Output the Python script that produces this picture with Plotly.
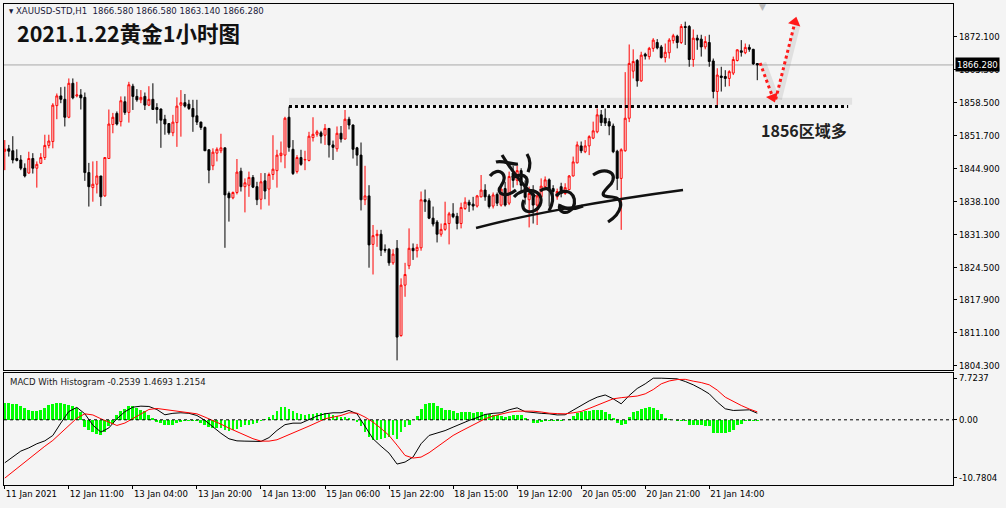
import plotly.graph_objects as go

W, H = 1006, 508
BG = '#f4f4f4'
FONT = 'DejaVu Sans Condensed, Liberation Sans, sans-serif'

# ---------------- data (hourly XAUUSD bars, index 0 = first visible bar) ----------------
open_ = [
    1848.5, 1849.0, 1848.6, 1847.0, 1846.7, 1845.0, 1844.0, 1847.0, 1845.0, 1846.0,
    1847.2, 1849.7, 1850.5, 1857.9, 1859.9, 1859.2, 1855.5, 1862.5, 1859.9, 1860.1,
    1859.6, 1844.1, 1841.0, 1841.7, 1843.4, 1839.3, 1847.0, 1854.0, 1856.3, 1854.6,
    1858.7, 1856.5, 1861.9, 1859.8, 1859.1, 1859.8, 1858.0, 1859.2, 1857.5, 1857.2,
    1855.1, 1854.2, 1852.3, 1854.4, 1858.0, 1858.5, 1858.2, 1857.3, 1855.8, 1854.5,
    1853.4, 1848.8, 1845.5, 1848.1, 1848.6, 1849.2, 1839.8, 1838.9, 1840.0, 1844.4,
    1841.2, 1841.5, 1843.1, 1841.2, 1838.6, 1842.4, 1840.7, 1843.7, 1844.5, 1847.6,
    1847.7, 1855.5, 1848.9, 1844.3, 1847.2, 1846.7, 1846.6, 1851.3, 1852.0, 1852.3,
    1851.8, 1853.2, 1849.8, 1849.0, 1852.2, 1851.0, 1855.1, 1853.9, 1849.2, 1847.7,
    1838.5, 1839.3, 1829.3, 1831.1, 1831.4, 1828.3, 1828.3, 1825.5, 1828.5, 1810.5,
    1820.9, 1824.9, 1828.5, 1828.0, 1828.6, 1838.5, 1838.3, 1834.7, 1833.9, 1831.4,
    1832.4, 1833.6, 1835.6, 1835.1, 1833.6, 1836.7, 1838.0, 1837.6, 1837.2, 1839.1,
    1840.5, 1839.3, 1837.2, 1839.6, 1837.4, 1840.8, 1837.8, 1844.0, 1842.5, 1844.5,
    1841.5, 1838.5, 1839.8, 1837.4, 1839.1, 1841.2, 1842.6, 1840.8, 1839.1, 1841.2,
    1839.8, 1840.6, 1843.4, 1846.1, 1849.6, 1848.4, 1849.6, 1851.2, 1852.5, 1856.0,
    1855.3, 1854.6, 1853.7, 1848.5, 1842.9, 1848.6, 1855.3, 1865.0, 1867.2, 1863.0,
    1868.5, 1868.0, 1869.7, 1870.9, 1870.0, 1867.8, 1868.8, 1871.3, 1872.2, 1870.9,
    1874.2, 1874.2, 1867.4, 1871.8, 1871.6, 1870.0, 1870.9, 1867.1, 1860.8, 1864.0,
    1863.9, 1863.5, 1864.6, 1867.2, 1869.2, 1868.8, 1869.9, 1869.5, 1866.58]

high = [
    1850.8, 1849.8, 1851.6, 1848.9, 1847.7, 1846.0, 1848.4, 1848.1, 1846.4, 1848.1,
    1851.9, 1851.9, 1858.4, 1860.4, 1861.7, 1861.8, 1863.5, 1863.5, 1862.8, 1861.3,
    1860.6, 1846.1, 1846.4, 1846.5, 1843.4, 1847.2, 1857.1, 1856.4, 1856.7, 1859.8,
    1859.8, 1862.8, 1862.4, 1861.3, 1861.1, 1860.6, 1861.9, 1862.5, 1858.4, 1857.3,
    1856.0, 1854.2, 1856.0, 1859.6, 1861.1, 1860.3, 1859.1, 1859.1, 1859.1, 1854.6,
    1853.6, 1848.9, 1849.1, 1849.3, 1852.1, 1849.2, 1840.2, 1840.2, 1846.9, 1845.1,
    1842.9, 1844.3, 1843.6, 1842.2, 1844.0, 1844.0, 1844.1, 1851.8, 1848.8, 1850.5,
    1855.6, 1857.7, 1850.8, 1847.7, 1848.8, 1848.6, 1852.5, 1855.5, 1852.9, 1852.7,
    1854.1, 1853.2, 1850.7, 1853.6, 1853.7, 1857.0, 1855.6, 1854.0, 1849.4, 1850.3,
    1845.5, 1841.5, 1833.3, 1832.3, 1832.3, 1829.3, 1828.5, 1828.3, 1830.2, 1822.3,
    1825.5, 1832.6, 1829.5, 1829.4, 1840.2, 1840.6, 1838.8, 1837.1, 1834.3, 1833.6,
    1838.1, 1836.0, 1837.8, 1835.8, 1837.9, 1839.0, 1838.5, 1839.1, 1839.5, 1843.6,
    1841.7, 1839.7, 1840.0, 1840.0, 1841.4, 1842.2, 1844.3, 1845.5, 1845.5, 1845.0,
    1842.5, 1841.2, 1841.5, 1840.2, 1842.9, 1843.3, 1842.9, 1841.5, 1840.8, 1842.0,
    1841.9, 1843.6, 1847.4, 1850.5, 1850.5, 1850.8, 1851.8, 1854.6, 1857.3, 1857.0,
    1857.3, 1855.3, 1854.2, 1848.8, 1849.1, 1864.8, 1870.5, 1869.5, 1867.5, 1869.0,
    1868.8, 1870.0, 1871.8, 1871.6, 1870.4, 1870.7, 1871.8, 1872.7, 1872.5, 1874.7,
    1875.2, 1874.5, 1873.6, 1872.5, 1872.5, 1872.2, 1872.5, 1867.6, 1865.6, 1865.9,
    1865.2, 1865.2, 1868.0, 1869.5, 1871.4, 1870.7, 1870.5, 1869.6, 1866.58]

low = [
    1844.6, 1847.4, 1846.0, 1846.4, 1844.6, 1843.1, 1843.9, 1843.9, 1841.0, 1845.9,
    1846.7, 1849.1, 1849.1, 1855.1, 1858.4, 1853.6, 1855.3, 1859.2, 1859.6, 1857.1,
    1842.4, 1837.1, 1838.1, 1839.8, 1837.2, 1839.1, 1847.0, 1852.2, 1853.8, 1853.6,
    1856.0, 1854.4, 1857.0, 1858.7, 1858.4, 1857.0, 1857.8, 1857.0, 1854.2, 1849.2,
    1851.9, 1851.9, 1851.6, 1849.4, 1851.5, 1857.5, 1857.0, 1852.5, 1853.9, 1852.9,
    1848.6, 1841.9, 1844.6, 1846.4, 1848.1, 1828.6, 1834.0, 1838.6, 1839.6, 1840.2,
    1835.9, 1839.1, 1840.9, 1837.4, 1836.5, 1838.6, 1837.3, 1842.6, 1841.0, 1846.2,
    1845.0, 1848.4, 1843.6, 1843.9, 1845.5, 1844.6, 1846.4, 1850.5, 1851.5, 1850.1,
    1849.8, 1847.2, 1846.7, 1848.4, 1850.3, 1851.0, 1853.0, 1847.0, 1845.5, 1836.3,
    1837.4, 1824.5, 1823.1, 1828.8, 1826.9, 1827.6, 1824.9, 1825.1, 1805.4, 1810.3,
    1818.5, 1824.2, 1826.1, 1826.6, 1828.0, 1836.0, 1834.5, 1833.0, 1829.7, 1830.9,
    1832.1, 1829.3, 1834.7, 1832.4, 1832.6, 1836.4, 1836.0, 1836.3, 1836.9, 1839.0,
    1838.3, 1836.7, 1836.7, 1837.2, 1837.1, 1837.1, 1837.4, 1841.0, 1841.5, 1840.0,
    1837.5, 1832.8, 1833.6, 1833.3, 1838.4, 1840.5, 1837.1, 1839.0, 1838.5, 1839.0,
    1839.5, 1840.5, 1843.3, 1846.0, 1848.1, 1848.1, 1847.7, 1851.0, 1852.2, 1853.7,
    1853.7, 1851.8, 1848.1, 1840.5, 1832.3, 1848.4, 1854.5, 1863.5, 1861.8, 1862.8,
    1867.4, 1867.4, 1869.0, 1869.5, 1867.6, 1866.8, 1867.6, 1870.7, 1869.7, 1870.6,
    1870.4, 1865.9, 1865.9, 1869.4, 1868.0, 1869.5, 1865.9, 1859.4, 1858.0, 1860.8,
    1861.8, 1861.9, 1864.2, 1867.0, 1868.0, 1868.5, 1869.0, 1866.3, 1863.14]

close = [
    1848.9, 1848.5, 1846.7, 1846.6, 1845.0, 1843.4, 1847.0, 1845.0, 1845.8, 1847.2,
    1849.7, 1850.6, 1858.0, 1859.9, 1859.2, 1855.5, 1862.5, 1859.5, 1860.1, 1859.5,
    1844.1, 1841.2, 1841.7, 1843.4, 1839.1, 1847.2, 1854.1, 1855.5, 1854.1, 1858.9,
    1856.5, 1862.2, 1859.8, 1859.1, 1859.6, 1858.0, 1859.2, 1857.1, 1857.1, 1854.9,
    1854.1, 1852.3, 1854.5, 1857.8, 1858.5, 1857.8, 1857.3, 1855.6, 1854.5, 1853.4,
    1848.6, 1844.6, 1848.3, 1848.9, 1849.2, 1839.5, 1838.9, 1840.0, 1844.2, 1841.2,
    1842.0, 1843.1, 1841.1, 1838.5, 1842.2, 1840.3, 1843.7, 1844.8, 1847.7, 1848.1,
    1855.3, 1849.3, 1843.9, 1847.2, 1845.8, 1846.8, 1851.6, 1852.0, 1852.5, 1851.6,
    1853.2, 1849.8, 1849.3, 1852.2, 1851.0, 1855.1, 1853.9, 1848.9, 1847.7, 1838.5,
    1839.3, 1829.2, 1831.1, 1831.4, 1828.1, 1828.1, 1825.5, 1827.3, 1810.2, 1820.9,
    1823.1, 1828.5, 1828.0, 1828.7, 1838.5, 1838.1, 1834.7, 1833.5, 1831.4, 1832.4,
    1833.6, 1835.6, 1835.0, 1833.6, 1836.9, 1838.0, 1837.4, 1837.2, 1839.3, 1840.5,
    1839.1, 1837.1, 1839.5, 1837.8, 1840.7, 1837.4, 1843.3, 1842.5, 1844.5, 1841.5,
    1839.0, 1839.8, 1837.4, 1839.3, 1841.3, 1842.6, 1840.5, 1840.2, 1840.2, 1839.8,
    1841.0, 1843.4, 1846.3, 1849.8, 1848.6, 1849.6, 1851.5, 1852.7, 1856.0, 1854.4,
    1854.3, 1853.7, 1848.4, 1842.9, 1848.8, 1855.3, 1866.6, 1867.0, 1863.0, 1868.3,
    1868.1, 1869.7, 1871.4, 1869.8, 1867.8, 1868.9, 1871.4, 1872.3, 1870.9, 1874.2,
    1874.0, 1867.4, 1871.8, 1871.4, 1870.0, 1871.1, 1867.0, 1860.8, 1864.2, 1863.7,
    1863.5, 1864.9, 1867.4, 1869.4, 1868.9, 1869.9, 1869.5, 1866.5, 1866.28]

# MACD histogram (one value per bar)
macd_hist = [
    3.08, 3.08, 2.96, 2.84, 2.47, 2.16, 1.85, 1.60, 1.54, 1.73,
    2.16, 2.65, 2.96, 3.15, 3.15, 2.90, 2.65, 2.47, 2.16, 1.42,
    -1.36, -1.97, -2.28, -2.59, -2.90, -2.28, -1.23, -0.74, 0.80, 1.60,
    2.04, 2.47, 2.53, 2.16, 1.85, 1.54, 0.80, 0.31, -0.43, -0.62,
    -0.93, -1.05, -0.93, -0.62, -0.43, -0.31, -0.19, -0.19, -0.31, -0.56,
    -0.93, -1.36, -1.54, -1.54, -1.54, -1.97, -2.16, -1.97, -1.67, -1.36,
    -1.05, -0.93, -0.74, -0.56, -0.31, 0.19, 0.49, 0.93, 1.54, 2.34,
    2.34, 1.91, 1.54, 1.23, 0.99, 0.93, 1.05, 1.11, 1.23, 1.30,
    1.17, 0.99, 0.80, 0.62, 0.49, 0.49, 0.31, 0.19, -0.43, -1.23,
    -2.28, -3.21, -3.70, -3.70, -3.52, -3.33, -3.21, -2.90, -3.52, -2.28,
    -1.36, -0.93, -0.10, 0.68, 2.04, 2.96, 3.08, 3.08, 2.53, 2.16,
    1.85, 1.73, 1.54, 1.30, 1.42, 1.42, 1.42, 1.23, 1.42, 1.42,
    1.11, 0.99, 0.80, 0.93, 0.62, 0.49, 0.62, 0.80, 0.80, 0.80,
    0.31, 0.05, -0.56, -0.56, -0.43, -0.31, -0.31, -0.31, -0.31, -0.31,
    -0.12, 0.19, 0.62, 1.23, 1.42, 1.54, 1.60, 1.73, 1.85, 1.85,
    1.42, 1.11, 0.31, -0.62, -1.05, -0.74, 0.49, 1.42, 1.60, 1.91,
    2.16, 2.34, 2.16, 1.85, 0.99, 0.37, 0.19, 0.05, -0.19, -0.25,
    -0.25, -0.93, -0.93, -1.05, -1.05, -1.17, -1.23, -2.47, -2.47, -2.47,
    -2.47, -2.28, -1.97, -1.05, -0.74, -0.31, -0.19, -0.19, -0.2539]

# MACD main (black) and signal (red) lines, read every second bar
line_idx = list(range(0, 189, 2))
macd_main = [
    -7.96, -6.90, -5.80, -5.20, -4.44, -3.90, -2.90, -0.60, 1.54, 2.30,
    1.11, -1.00, -2.28, -1.50, 0.19, 1.50, 2.34, 2.53, 2.47, 1.90,
    0.93, 1.20, 1.30, 1.20, 0.80, -0.10, -1.36, -2.50, -3.52, -3.90,
    -3.95, -4.00, -4.01, -3.30, -1.97, -0.90, -0.62, -0.62, 0.06, 0.70,
    1.11, 1.30, 1.30, 1.73, 1.11, -1.20, -3.52, -4.90, -6.17, -8.20,
    -7.83, -6.90, -4.44, -2.90, -2.47, -2.00, -1.36, -0.70, -0.12, 0.40,
    0.99, 1.20, 1.30, 1.85, 2.22, 1.50, 1.30, 1.20, 1.11, 0.90,
    0.93, 1.80, 2.65, 3.50, 4.19, 4.60, 3.89, 2.96, 4.50, 5.80,
    6.66, 7.71, 7.71, 7.71, 7.59, 7.10, 6.48, 5.70, 4.81, 3.30,
    2.04, 1.73, 1.73, 1.85, 1.2154]
macd_signal = [
    -10.80, -9.60, -8.45, -7.20, -5.98, -4.90, -3.82, -2.40, -1.05, 0.30,
    1.11, 0.90, 0.19, -0.50, -1.05, -0.60, 0.19, 1.10, 1.91, 2.10,
    1.91, 1.70, 1.54, 1.35, 1.11, 0.50, -0.12, -0.80, -1.54, -2.20,
    -2.90, -3.50, -3.95, -3.95, -3.70, -3.10, -2.47, -1.80, -1.17, -0.50,
    0.19, 0.50, 0.80, 1.30, 1.23, 0.50, -0.43, -1.60, -2.90, -4.70,
    -6.60, -7.09, -6.91, -6.10, -5.06, -4.00, -2.90, -2.10, -1.36, -0.60,
    0.19, 0.70, 1.11, 1.40, 1.60, 1.65, 1.60, 1.45, 1.23, 1.15,
    1.11, 1.30, 1.54, 2.10, 2.65, 3.30, 3.89, 4.10, 4.19, 4.40,
    4.81, 5.60, 6.66, 7.20, 7.46, 7.50, 7.16, 6.90, 6.48, 5.50,
    4.19, 3.40, 2.65, 2.00, 1.4693]

# axis labels
price_ticks = [1872.1, 1865.3, 1858.5, 1851.7, 1844.9, 1838.1, 1831.3, 1824.5, 1817.9, 1811.1, 1804.3]
macd_ticks = [7.7237, 0.0, -10.7804]
macd_tick_text = ['7.7237', '0.00', '-10.7804']
time_tick_idx = [0, 16, 32, 48, 64, 80, 96, 112, 128, 144, 160, 176]
time_tick_text = ['11 Jan 2021', '12 Jan 11:00', '13 Jan 04:00', '13 Jan 20:00', '14 Jan 13:00',
                  '15 Jan 06:00', '15 Jan 22:00', '18 Jan 15:00', '19 Jan 12:00', '20 Jan 05:00',
                  '20 Jan 21:00', '21 Jan 14:00']

last_price = 1866.28
support_level = 1857.7
support_from, support_to = 71, 210.7
arrow_down = ([188.7, 191.6], [1866.7, 1860.2])
arrow_up = ([192.6, 197.2], [1859.2, 1874.4])
arrow_heads = ([191.9, 197.4], [1859.6, 1875.1], [-21, 15], ['triangle-down', 'triangle-up'])

# ---------------- layout geometry ----------------
PL, PR, PT, PB = 4, 53, 4, 23


def px(x):
    return (x - PL) / (W - PL - PR)


def py(y):
    return (H - PB - y) / (H - PT - PB)


x_idx = list(range(len(close)))
X_RANGE = [-0.2, 236.9]

fig = go.Figure()

fig.add_trace(go.Candlestick(
    x=x_idx, open=open_, high=high, low=low, close=close,
    increasing=dict(line=dict(color='#ff0000', width=1), fillcolor=BG),
    decreasing=dict(line=dict(color='#000000', width=1), fillcolor='#000000'),
    whiskerwidth=0, xaxis='x', yaxis='y', hoverinfo='skip', showlegend=False))

# support dotted line with soft shadow
fig.add_trace(go.Scatter(x=[support_from, support_to + 1], y=[support_level + 1.1] * 2, mode='lines',
                         line=dict(color='rgba(0,0,0,0.07)', width=7), xaxis='x', yaxis='y',
                         hoverinfo='skip', showlegend=False))
fig.add_trace(go.Scatter(x=[support_from, support_to], y=[support_level] * 2, mode='lines',
                         line=dict(color='#000000', width=3, dash='dot'), xaxis='x', yaxis='y',
                         hoverinfo='skip', showlegend=False))

# red dotted arrows
for seg in (arrow_down, arrow_up):
    fig.add_trace(go.Scatter(x=[v + 0.8 for v in seg[0]], y=seg[1], mode='lines',
                             line=dict(color='rgba(0,0,0,0.08)', width=6), xaxis='x', yaxis='y',
                             hoverinfo='skip', showlegend=False))
    fig.add_trace(go.Scatter(x=seg[0], y=seg[1], mode='lines',
                             line=dict(color='#ff1a1a', width=3, dash='dot'), xaxis='x', yaxis='y',
                             hoverinfo='skip', showlegend=False))
fig.add_trace(go.Scatter(x=arrow_heads[0], y=arrow_heads[1], mode='markers',
                         marker=dict(symbol=arrow_heads[3], angle=arrow_heads[2], size=11,
                                     color='#ff1a1a', line=dict(width=0)),
                         xaxis='x', yaxis='y', hoverinfo='skip', showlegend=False))

# MACD panel
fig.add_trace(go.Bar(x=x_idx, y=macd_hist, width=0.72, marker=dict(color='#00ff00', line=dict(width=0)),
                     xaxis='x2', yaxis='y2', hoverinfo='skip', showlegend=False))
fig.add_trace(go.Scatter(x=line_idx, y=macd_main, mode='lines', line=dict(color='#000000', width=1),
                         xaxis='x2', yaxis='y2', hoverinfo='skip', showlegend=False))
fig.add_trace(go.Scatter(x=line_idx, y=macd_signal, mode='lines', line=dict(color='#ff0000', width=1),
                         xaxis='x2', yaxis='y2', hoverinfo='skip', showlegend=False))

shapes = [
    dict(type='line', xref='x domain', yref='y', x0=0, x1=1, y0=last_price, y1=last_price,
         line=dict(color='#a8a8a8', width=1), layer='below'),
    dict(type='line', xref='x2 domain', yref='y2', x0=0, x1=1, y0=0, y1=0,
         line=dict(color='#000000', width=1, dash='3px,3px'), layer='above'),
]

# signature-like scribble (decoration, pixel positions)
sig_strokes = [
    [(502, 155), (510, 168), (520, 182), (535, 197)],
    [(490, 176), (498, 166), (510, 174), (501, 186), (495, 193), (505, 199), (516, 190)],
    [(496, 162), (503, 160), (512, 165), (518, 164)],
    [(527, 154), (530, 159), (531, 165), (528, 172)],
    [(512, 178), (522, 172), (530, 176), (526, 186)],
    [(514, 197), (525, 185), (546, 190), (540, 205), (535, 216), (518, 213), (524, 200)],
    [(540, 191), (550, 183), (557, 196), (549, 211)],
    [(556, 196), (566, 185), (579, 195), (573, 208), (566, 216), (557, 212), (560, 204)],
    [(560, 206), (568, 210), (576, 209), (583, 206)],
    [(593, 175), (605, 167), (619, 172), (611, 184), (603, 192), (598, 197), (612, 197),
     (626, 198), (622, 213), (608, 222)],
    [(476, 228), (520, 216), (600, 201), (683, 190)],
]
for k, pts in enumerate(sig_strokes):
    path = 'M %.4f,%.4f' % (px(pts[0][0]), py(pts[0][1]))
    rest = pts[1:]
    while len(rest) >= 3:
        a, b, c = rest[0], rest[1], rest[2]
        path += ' C %.4f,%.4f %.4f,%.4f %.4f,%.4f' % (px(a[0]), py(a[1]), px(b[0]), py(b[1]), px(c[0]), py(c[1]))
        rest = rest[3:]
    for p in rest:
        path += ' L %.4f,%.4f' % (px(p[0]), py(p[1]))
    shapes.append(dict(type='path', xref='paper', yref='paper', path=path,
                       line=dict(color='#111111', width=2.4 if k == len(sig_strokes) - 1 else 3.2),
                       layer='above'))

annotations = [
    dict(xref='paper', yref='paper', x=px(7), y=py(11), xanchor='left', yanchor='middle', showarrow=False,
         text='▾ XAUUSD-STD,H1  1866.580 1866.580 1863.140 1866.280',
         font=dict(family=FONT, size=9.5, color='#1a1a3a')),
    dict(xref='paper', yref='paper', x=px(15), y=py(32), xanchor='left', yanchor='middle', showarrow=False,
         text='<b>2021.1.22黄金1小时图</b>',
         font=dict(family='Noto Sans CJK SC, Noto Sans, sans-serif', size=21.5, color='#111111')),
    dict(xref='paper', yref='paper', x=px(759), y=py(130), xanchor='left', yanchor='middle', showarrow=False,
         text='<b>1856区域多</b>',
         font=dict(family='Noto Sans CJK SC, Noto Sans, sans-serif', size=16, color='#222222')),
    dict(xref='paper', yref='paper', x=px(8), y=py(381), xanchor='left', yanchor='middle', showarrow=False,
         text='MACD With Histogram -0.2539 1.4693 1.2154',
         font=dict(family=FONT, size=9.5, color='#1a1a1a')),
    dict(xref='paper', yref='y', x=1, y=last_price, xanchor='left', yanchor='middle', xshift=2,
         showarrow=False, text='1866.280', bgcolor='#000000', borderpad=1,
         font=dict(family=FONT, size=9.5, color='#ffffff')),
    dict(xref='paper', yref='paper', x=px(762), y=py(7), xanchor='center', yanchor='middle', showarrow=False,
         text='▼', font=dict(family='DejaVu Sans', size=9, color='#b8b8b8')),
]

axis_common = dict(showgrid=False, zeroline=False, showline=True, mirror=True, linecolor='#000000',
                   linewidth=1, fixedrange=True)
tickfont = dict(family=FONT, size=9.5, color='#000000')

fig.update_layout(
    width=W, height=H,
    margin=dict(l=PL, r=PR, t=PT, b=PB, pad=0),
    paper_bgcolor=BG, plot_bgcolor=BG,
    showlegend=False, hovermode=False, bargap=0,
    shapes=shapes, annotations=annotations,
    xaxis=dict(domain=[0, 1], anchor='y', range=X_RANGE, showticklabels=False, ticks='',
               rangeslider=dict(visible=False), **axis_common),
    yaxis=dict(domain=[0.2391, 1], anchor='x', side='right', range=[1803.42, 1878.84],
               tickvals=price_ticks, ticktext=['%.3f' % v for v in price_ticks],
               ticks='outside', ticklen=3, tickcolor='#000000', tickfont=tickfont, **axis_common),
    xaxis2=dict(domain=[0, 1], anchor='y2', range=X_RANGE, tickvals=time_tick_idx, ticktext=time_tick_text,
                ticks='outside', ticklen=3, tickcolor='#000000', tickfont=tickfont,
                ticklabelposition='outside right', **axis_common),
    yaxis2=dict(domain=[0, 0.2335], anchor='x2', side='right', range=[-12.08, 8.73],
                tickvals=macd_ticks, ticktext=macd_tick_text, ticks='outside', ticklen=3,
                tickcolor='#000000', tickfont=tickfont, **axis_common),
)

fig.write_html('out.html', config=dict(displayModeBar=False, staticPlot=True),
               post_script="document.body.style.margin='0';document.body.style.padding='0';"
                           "document.documentElement.style.background='%s';" % BG)
